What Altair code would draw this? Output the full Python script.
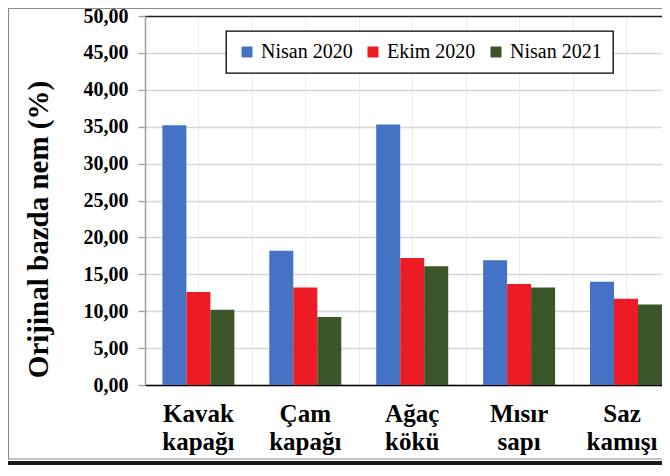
import altair as alt
import pandas as pd

categories = ["Kavak kapağı", "Çam kapağı", "Ağaç kökü", "Mısır sapı", "Saz kamışı"]
series = ["Nisan 2020", "Ekim 2020", "Nisan 2021"]
nisan2020 = [35.2, 18.2, 35.3, 16.9, 14.0]
ekim2020 = [12.6, 13.2, 17.2, 13.7, 11.7]
nisan2021 = [10.2, 9.2, 16.1, 13.2, 10.9]
colors = ["#4472C4", "#ED1C24", "#3B5628"]
y_ticks = [0, 5, 10, 15, 20, 25, 30, 35, 40, 45, 50]

rows = []
for s, vals in zip(series, [nisan2020, ekim2020, nisan2021]):
    for c, v in zip(categories, vals):
        rows.append({"cat": c, "series": s, "value": v})
df = pd.DataFrame(rows)

FONT = "Liberation Serif"
PLOT_W = 517
STEP = 106.9

# light vertical gridlines (half-category spacing, Excel style)
vgrid = alt.Chart(pd.DataFrame({"a": [0]})).mark_rule(opacity=0).encode(
    x=alt.X(datum=0, type="quantitative",
            scale=alt.Scale(domain=[0, PLOT_W / (STEP / 2)], nice=False, zero=False),
            axis=alt.Axis(orient="top", grid=True, gridColor="#ececec", gridWidth=1,
                          values=list(range(0, 10)), labels=False, ticks=False,
                          domain=False, title=None))
)

bars = alt.Chart(df).mark_bar().encode(
    x=alt.X("cat:N", sort=categories,
            scale=alt.Scale(paddingInner=0.3265, paddingOuter=0.0814, align=1),
            axis=alt.Axis(title=None, labelAngle=0, ticks=False, domainColor="#000000",
                          domainWidth=1.5, labelFont=FONT, labelFontSize=25,
                          labelFontWeight="bold", labelColor="#000000", labelPadding=16,
                          labelLineHeight=28, labelBaseline="top",
                          labelOffset={"condition": {"test": "datum.label === 'Saz kamışı'", "value": -4},
                                       "value": 0},
                          labelExpr="split(datum.label, ' ')")),
    xOffset=alt.XOffset("series:N", sort=series),
    y=alt.Y("value:Q", scale=alt.Scale(domain=[0, 50], nice=False),
            axis=alt.Axis(values=y_ticks, title="Orijinal bazda nem (%)",
                          titleFont=FONT, titleFontSize=29, titleFontWeight="bold",
                          titleColor="#000000", titleX=-98, titleY=213,
                          titleAngle=270, titleAlign="center", titleBaseline="alphabetic",
                          labelFont=FONT, labelFontSize=20, labelFontWeight="bold",
                          labelColor="#000000", labelPadding=10,
                          labelExpr="replace(format(datum.value, '.2f'), '.', ',')",
                          domainColor="#a0a0a0", domainWidth=1.5,
                          tickColor="#a0a0a0", tickSize=7, tickWidth=1.3,
                          grid=True,
                          gridColor={"condition": {"test": "datum.value === 50", "value": "#222222"},
                                     "value": "#d6d6d6"},
                          gridWidth=1.3)),
    color=alt.Color("series:N", sort=series,
                    scale=alt.Scale(domain=series, range=colors),
                    legend=alt.Legend(title=None, orient="none", legendX=81, legendY=15,
                                      direction="horizontal", fillColor="#ffffff",
                                      strokeColor="#000000", padding=11,
                                      symbolType="square", symbolSize=121,
                                      symbolStrokeWidth=0, labelFont=FONT,
                                      labelFontWeight="normal",
                                      labelFontSize=20, labelColor="#000000",
                                      labelOffset=4, columnPadding=10)),
)

frame = alt.Chart(pd.DataFrame({"a": [0]})).mark_rect(
    filled=False, stroke="#8a8a8a", strokeWidth=1.2
).encode(x=alt.value(-136.5), x2=alt.value(540), y=alt.value(-7.5), y2=alt.value(443))

bottom_line = alt.Chart(pd.DataFrame({"a": [0]})).mark_rule(
    color="#1a1a1a", strokeWidth=4
).encode(x=alt.value(-137), x2=alt.value(540), y=alt.value(447))

chart = alt.layer(vgrid, bars, frame, bottom_line).resolve_scale(x="independent").properties(
    width=PLOT_W, height=369,
    autosize=alt.AutoSizeParams(type="none"),
    padding={"left": 137, "top": 8, "right": 0, "bottom": 80},
    background="#ffffff",
).configure(
    font=FONT,
    style={"guide-label": {"font": FONT, "fontWeight": "normal", "fontSize": 20}},
).configure_view(stroke=None).configure_legend(
    strokeWidth=1.3, labelFont=FONT, labelFontSize=20
)

chart.save("out.html", embed_options={"renderer": "svg", "actions": False})
